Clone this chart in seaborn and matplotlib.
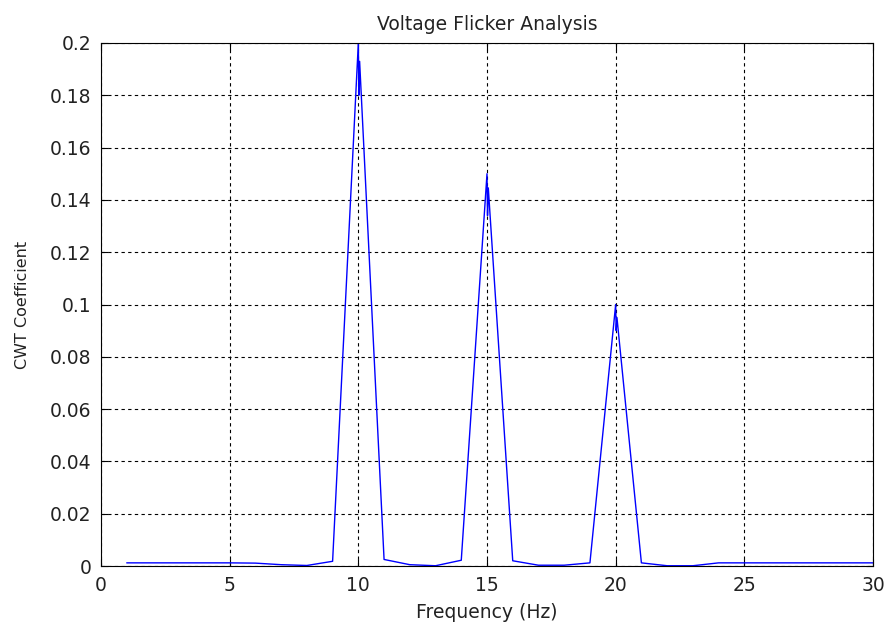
import matplotlib
matplotlib.use("Agg")
import matplotlib.pyplot as plt
import seaborn as sns
import pandas as pd

freq = [1, 2, 3, 4, 5, 6, 7, 8, 9,
        10, 10.02, 10.05, 11, 12, 13, 14,
        15, 15.02, 15.05, 16, 17, 18, 19,
        20, 20.02, 20.05, 21, 22, 23, 24, 25, 26, 27, 28, 29, 30]
coef = [0.0012, 0.0012, 0.0012, 0.0012, 0.0012, 0.0011, 0.0005, 0.0002, 0.0018,
        0.2, 0.18, 0.193, 0.0025, 0.0005, 0.0001, 0.0022,
        0.15, 0.134, 0.1446, 0.002, 0.0003, 0.0003, 0.0012,
        0.1, 0.09, 0.095, 0.0012, 0.0001, 0.0001, 0.0012, 0.0012, 0.0012, 0.0012, 0.0012, 0.0012, 0.0012]
xticks = [0, 5, 10, 15, 20, 25, 30]
yticks = [0, 0.02, 0.04, 0.06, 0.08, 0.1, 0.12, 0.14, 0.16, 0.18, 0.2]
ytick_labels = ["0", "0.02", "0.04", "0.06", "0.08", "0.1", "0.12", "0.14", "0.16", "0.18", "0.2"]

sns.set_style("white")
plt.rcParams['font.family'] = ['DejaVu Sans']

df = pd.DataFrame({"Frequency": freq, "Coef": coef})
fig = plt.figure(figsize=(8.88, 6.26), dpi=100)
ax = fig.add_axes([101 / 888, 1 - 566 / 626, 772 / 888, 523 / 626])
sns.lineplot(data=df, x="Frequency", y="Coef", ax=ax, color="#0000ff", linewidth=1.0,
             estimator=None, sort=False)
ax.set_xlim(0, 30)
ax.set_ylim(0, 0.2)
ax.set_xticks(xticks)
ax.set_xticklabels([str(t) for t in xticks])
ax.set_yticks(yticks)
ax.set_yticklabels(ytick_labels)
ax.grid(True, color="black", linestyle=(0, (3, 3)), linewidth=0.8)
ax.set_axisbelow(True)
for s in ax.spines.values():
    s.set_color("black")
    s.set_linewidth(0.8)
ax.tick_params(direction="in", length=5, top=True, right=True, bottom=True, left=True,
               labelsize=13.5, colors="black", width=0.8, pad=7, labelcolor="#222222")
ax.set_xlabel("Frequency (Hz)", fontsize=13.5, labelpad=6, color="#222222")
ax.set_ylabel("CWT Coefficient", fontsize=11.5, labelpad=14, color="#222222")
ax.set_title("Voltage Flicker Analysis", fontsize=13.5, pad=9, color="#222222")
fig.savefig("out.png", dpi=100)
